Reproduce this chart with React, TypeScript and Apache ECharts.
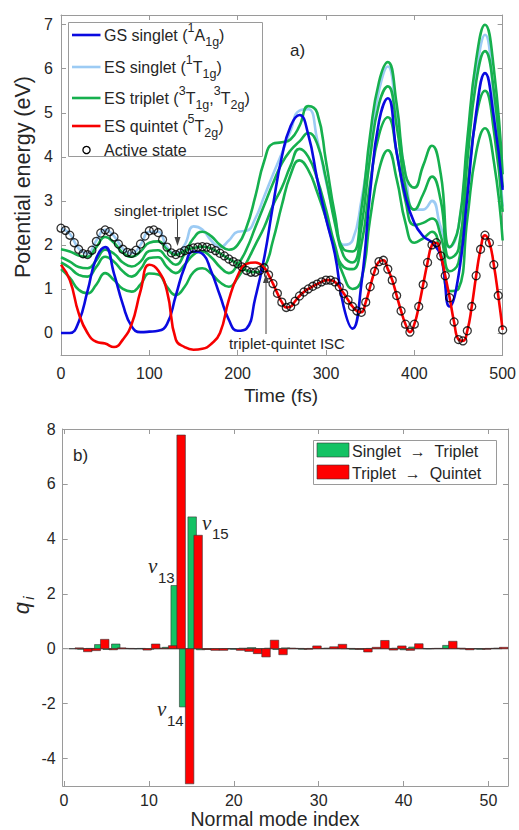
import React, { useEffect, useRef } from 'react';
import * as echarts from 'echarts';

// ---------- Panel a) data (time in fs, energy in eV) ----------
const lineTimes = [0, 10, 20, 30, 40, 50, 60, 70, 80, 90, 100, 110, 120, 130, 140, 150, 160, 170, 180, 190, 200,
  210, 220, 230, 240, 250, 260, 270, 280, 290, 300, 310, 320, 330, 340, 350, 360, 370, 380, 390, 400,
  410, 420, 430, 440, 450, 460, 470, 480, 490, 500];

const gsSinglet = [0, 0, 0.25, 0.95, 1.7, 1.95, 1.35, 0.65, 0.15, 0.02, 0.03, 0.05, 0.2, 0.85, 1.5, 1.85, 1.8, 1.4, 0.85, 0.3, 0.05,
  0.1, 0.8, 1.7, 2.9, 4.0, 4.7, 4.95, 4.5, 3.5, 2.6, 1.8, 0.6, 0.1, 1.1, 3.2, 4.8, 5.33, 4.1, 3.1, 2.5,
  2.2, 2.05, 1.75, 0.6, 1.3, 3.1, 5.0, 5.9, 4.9, 3.25];

const esSinglet = [2.38, 2.25, 1.92, 1.8, 2.1, 2.34, 2.2, 1.92, 1.81, 2.0, 2.3, 2.3, 1.95, 1.8, 2.0, 2.42, 2.35, 2.1, 1.95, 2.1, 2.3,
  2.32, 2.6, 3.1, 3.6, 4.08, 4.6, 5.05, 5.08, 4.4, 3.45, 2.6, 2.0, 2.1, 3.0, 4.3, 5.5, 6.05, 4.9, 3.6, 2.8,
  2.8, 3.0, 2.4, 1.95, 2.4, 4.2, 5.9, 6.77, 5.3, 2.87];

const tripletA = [1.9, 1.85, 1.76, 1.73, 1.95, 2.18, 2.05, 1.82, 1.73, 1.85, 2.05, 2.08, 1.9, 1.77, 1.87, 1.93, 1.96, 1.92, 1.81, 1.68, 1.57,
  1.42, 1.38, 1.48, 2.1, 2.9, 3.6, 3.92, 3.7, 3.2, 2.6, 1.9, 1.3, 1.0, 1.2, 2.6, 3.7, 4.15, 3.5, 2.5, 2.05,
  2.15, 2.3, 1.8, 0.95, 1.0, 2.6, 4.1, 4.65, 3.9, 2.1];

const tripletB = [1.72, 1.62, 1.5, 1.47, 1.65, 1.89, 1.8, 1.6, 1.51, 1.62, 1.86, 1.88, 1.7, 1.55, 1.8, 2.15, 2.3, 2.2, 2.0, 1.89, 2.0,
  2.4, 3.1, 3.9, 4.3, 4.33, 4.4, 4.7, 5.15, 5.0, 3.9, 2.7, 1.9, 1.85, 2.8, 4.5, 5.7, 6.15, 5.2, 3.6, 3.3,
  3.8, 4.25, 3.6, 1.95, 2.4, 4.4, 6.2, 7.0, 6.0, 3.6];

const tripletC = [1.6, 1.48, 1.32, 1.28, 1.5, 1.73, 1.62, 1.4, 1.28, 1.45, 1.7, 1.72, 1.5, 1.36, 1.55, 1.78, 1.85, 1.72, 1.5, 1.36, 1.55,
  1.9, 2.4, 2.9, 3.4, 3.85, 4.15, 4.35, 4.54, 4.3, 3.5, 2.5, 1.75, 1.6, 2.4, 4.0, 5.2, 5.6, 4.7, 3.3, 2.8,
  3.15, 3.55, 3.0, 1.7, 1.9, 3.9, 5.7, 6.4, 5.5, 3.3];

const tripletD = [1.45, 1.25, 0.98, 0.9, 1.1, 1.36, 1.2, 1.0, 0.94, 1.1, 1.35, 1.33, 1.05, 0.86, 1.05, 1.38, 1.47, 1.35, 1.15, 1.05, 1.25,
  1.6, 2.0, 2.4, 2.9, 3.3, 3.8, 4.18, 4.0, 3.5, 2.8, 2.0, 1.5, 1.45, 2.0, 3.4, 4.5, 4.9, 4.1, 3.0, 2.45,
  2.5, 2.6, 2.2, 1.4, 1.6, 3.3, 4.9, 5.5, 4.6, 2.75];

// quintet before the triplet-quintet crossing (t = 0..220 fs); afterwards it is the active state
const quintetEarly = [1.55, 1.2, 0.45, 0.0, -0.2, -0.24, -0.32, -0.15, 0.2, 0.95, 1.55, 1.42, 0.95, -0.15, -0.32, -0.38, -0.36, -0.25,
  0.0, 0.75, 1.3, 1.57, 1.6];

const activeTimes = [0, 5, 10, 15, 20, 25, 30, 35, 40, 45, 50, 55, 60, 65, 70, 75, 80, 85, 90, 95, 100,
  105, 110, 115, 120, 125, 130, 135, 140, 145, 150, 155, 160, 165, 170, 175, 180, 185, 190, 195, 200,
  205, 210, 215, 220, 225, 230, 235, 240, 245, 250, 255, 260, 265, 270, 275, 280, 285, 290, 295, 300,
  305, 310, 315, 320, 325, 330, 335, 340, 345, 350, 355, 360, 365, 370, 375, 380, 385, 390, 395, 400,
  405, 410, 415, 420, 425, 430, 435, 440, 445, 450, 455, 460, 465, 470, 475, 480, 485, 490, 495, 500];

const activeState = [2.38, 2.33, 2.22, 2.05, 1.9, 1.8, 1.78, 1.88, 2.08, 2.27, 2.34, 2.3, 2.18, 2.02, 1.9, 1.83, 1.81, 1.88, 2.02, 2.2, 2.32,
  2.34, 2.28, 2.12, 1.95, 1.82, 1.78, 1.82, 1.87, 1.9, 1.93, 1.95, 1.96, 1.95, 1.92, 1.87, 1.81, 1.75, 1.68, 1.62, 1.57,
  1.5, 1.42, 1.38, 1.38, 1.42, 1.48, 1.32, 1.12, 0.9, 0.7, 0.58, 0.6, 0.72, 0.84, 0.93, 1.0, 1.06, 1.11, 1.16, 1.2,
  1.2, 1.16, 1.05, 0.9, 0.75, 0.6, 0.5, 0.47, 0.7, 1.05, 1.4, 1.62, 1.65, 1.45, 1.2, 0.85, 0.5, 0.2, 0.02, 0.2,
  0.6, 1.1, 1.6, 2.0, 2.05, 1.75, 1.3, 0.8, 0.25, -0.15, -0.18, 0.05, 0.6, 1.3, 1.9, 2.22, 2.05, 1.55, 0.85, 0.07];

const quintetSwitchTime = 230;
const energyTicks = [0, 1, 2, 3, 4, 5, 6, 7];

// ---------- Panel b) data ----------
const modeIndex = [1, 2, 3, 4, 5, 6, 7, 8, 9, 10, 11, 12, 13, 14, 15, 16, 17, 18, 19, 20, 21, 22, 23, 24, 25,
  26, 27, 28, 29, 30, 31, 32, 33, 34, 35, 36, 37, 38, 39, 40, 41, 42, 43, 44, 45, 46, 47, 48, 49, 50, 51];

const singletToTriplet = [0.0, -0.02, 0.01, 0.15, -0.03, 0.17, 0.01, 0.0, 0.01, -0.02, 0.02, 0.05, 2.3, -2.12, 4.8, -0.04, -0.02, -0.02, 0.0, -0.02,
  0.02, 0.04, -0.05, 0.02, -0.03, 0.03, 0.01, -0.02, 0.01, 0.01, 0.02, 0.01, 0.0, -0.02, -0.02, 0.01, 0.02, 0.01, 0.02, -0.04,
  0.06, 0.01, 0.0, 0.01, 0.12, 0.01, -0.01, 0.0, -0.02, 0.01, 0.02];

const tripletToQuintet = [0.03, -0.11, -0.07, 0.34, -0.04, 0.03, 0.01, 0.0, -0.05, 0.17, 0.02, 0.11, 7.78, -4.92, 4.13, -0.03, -0.06, -0.06, 0.0, -0.06,
  -0.1, -0.18, -0.3, 0.31, -0.22, 0.02, 0.01, -0.02, 0.1, 0.01, 0.07, 0.16, 0.01, -0.02, -0.12, 0.05, 0.3, -0.05, 0.1, -0.06,
  0.18, 0.0, 0.01, 0.01, 0.27, 0.02, -0.04, 0.0, -0.02, 0.01, 0.05];

const modeTicks = [0, 10, 20, 30, 40, 50];
const qTicks = [-4, -2, 0, 2, 4, 6, 8];

// ---------- styles ----------
const FONT = "'Liberation Sans', Arial, Helvetica, sans-serif";
const SERIF = "'Liberation Serif', 'Times New Roman', serif";
const TXT = '#262626';
const AX = '#9a9a9a';
const C_GS = '#0a0ae0';
const C_ES = '#9ccbf4';
const C_TRIP = '#16b04e';
const C_QUIN = '#f70000';
const C_BAR_G = '#14c264';
const C_BAR_R = '#ff0000';
const LW = 2.6;
const BAR_W = 1.0;
const GREEN_OFFSET = 0.1;
const RED_OFFSET = 0.8;

function axis(opts: any) {
  const { gridIndex, min, max, interval, position, ticks, labels, margin } = opts;
  const a: any = {
    type: 'value',
    gridIndex,
    min,
    max,
    position,
    splitLine: { show: false },
    axisLine: { show: true, onZero: false, lineStyle: { color: AX, width: 1 } },
    axisTick: { show: true, inside: true, length: 5, lineStyle: { color: AX, width: 1 } },
    axisLabel: { show: labels, color: TXT, fontSize: 16, fontFamily: FONT, margin },
  };
  if (interval !== undefined) a.interval = interval;
  if (ticks) {
    a.axisTick.customValues = ticks;
    a.axisLabel.customValues = ticks;
  }
  return a;
}

function lineSeries(name: string, values: number[], color: string, z: number) {
  return {
    type: 'line',
    name,
    xAxisIndex: 0,
    yAxisIndex: 0,
    data: lineTimes.map((t, i) => [t, values[i]]),
    smooth: 0.5,
    showSymbol: false,
    symbol: 'none',
    lineStyle: { color, width: LW },
    z,
    silent: true,
  };
}

function barRender(offset: number, color: string) {
  return (_params: any, api: any) => {
    const x = api.value(0) + offset;
    const v = api.value(1);
    const a = api.coord([x - BAR_W / 2, 0]);
    const b = api.coord([x + BAR_W / 2, v]);
    return {
      type: 'rect',
      shape: { x: a[0], y: Math.min(a[1], b[1]), width: b[0] - a[0], height: Math.abs(b[1] - a[1]) },
      style: { fill: color, stroke: '#333333', lineWidth: 0.6 },
    };
  };
}

const tStyle = { fontSize: 16, fontFamily: FONT, fill: TXT, color: TXT, lineHeight: 27 };
const supStyle = { fontSize: 12.5, fontFamily: FONT, fill: TXT, color: TXT, lineHeight: 12, verticalAlign: 'top' };
const subStyle = { fontSize: 12.5, fontFamily: FONT, fill: TXT, color: TXT, lineHeight: 12, verticalAlign: 'bottom' };
const legendRich = { t: tStyle, sup: supStyle, sub: subStyle };

function richText(x: number, y: number, text: string) {
  return {
    type: 'text',
    x,
    y,
    z: 100,
    style: { text, rich: legendRich, align: 'left', textAlign: 'left', verticalAlign: 'middle', textVerticalAlign: 'middle' },
  };
}

function plainText(x: number, y: number, text: string, size: number, align = 'left', extra: any = {}) {
  return {
    type: 'text',
    x,
    y,
    z: 100,
    ...extra,
    style: {
      text,
      fill: TXT,
      fontSize: size,
      fontFamily: FONT,
      align,
      textAlign: align,
      verticalAlign: 'middle',
      textVerticalAlign: 'middle',
      ...(extra.style || {}),
    },
  };
}

export default function App() {
  const ref = useRef<HTMLDivElement>(null);

  useEffect(() => {
    if (!ref.current) return;
    const chart = echarts.init(ref.current, undefined, { renderer: 'svg' });

    const quintetData = [
      ...quintetEarly.map((v, i) => [lineTimes[i], v]),
      ...activeTimes.map((t, i) => [t, activeState[i]]).filter((p) => p[0] >= quintetSwitchTime),
    ];

    const legendRows = [
      { y: 35, color: C_GS, text: '{t|GS singlet (}{sup|1}{t|A}{sub|1g}{t|)}' },
      { y: 67, color: C_ES, text: '{t|ES singlet (}{sup|1}{t|T}{sub|1g}{t|)}' },
      { y: 98, color: C_TRIP, text: '{t|ES triplet (}{sup|3}{t|T}{sub|1g}{t|,}{sup|3}{t|T}{sub|2g}{t|)}' },
      { y: 126, color: C_QUIN, text: '{t|ES quintet (}{sup|5}{t|T}{sub|2g}{t|)}' },
    ];

    const graphics: any[] = [
      // legend a)
      { type: 'rect', z: 99, shape: { x: 68.5, y: 22.5, width: 194, height: 134 }, style: { fill: '#ffffff', stroke: AX, lineWidth: 1 } },
      ...legendRows.map((r) => ({ type: 'line', z: 100, shape: { x1: 72, y1: r.y, x2: 100.5, y2: r.y }, style: { stroke: r.color, lineWidth: LW } })),
      ...legendRows.map((r) => richText(104, r.y, r.text)),
      { type: 'circle', z: 100, shape: { cx: 86.5, cy: 150, r: 3.6 }, style: { fill: 'none', stroke: '#000', lineWidth: 1.3 } },
      plainText(104, 150, 'Active state', 16),
      plainText(290, 50, 'a)', 17),
      // ISC annotations
      plainText(171, 210, 'singlet-triplet ISC', 15, 'center'),
      { type: 'line', z: 100, shape: { x1: 177.5, y1: 219, x2: 177.5, y2: 240 }, style: { stroke: '#444', lineWidth: 1 } },
      { type: 'polygon', z: 100, shape: { points: [[174.5, 237], [180.5, 237], [177.5, 246]] }, style: { fill: '#444' } },
      plainText(287, 343, 'triplet-quintet ISC', 15, 'center'),
      { type: 'line', z: 100, shape: { x1: 266, y1: 334, x2: 266, y2: 280 }, style: { stroke: '#444', lineWidth: 1 } },
      { type: 'polygon', z: 100, shape: { points: [[263, 283], [269, 283], [266, 274]] }, style: { fill: '#444' } },
      // axis titles
      plainText(281, 395, 'Time (fs)', 19, 'center'),
      plainText(23, 177, 'Potential energy (eV)', 21.5, 'center', { rotation: Math.PI / 2 }),
      plainText(275, 819, 'Normal mode index', 19.5, 'center'),
      plainText(21, 608, 'q', 22, 'center', { rotation: Math.PI / 2, style: { fontStyle: 'italic' } }),
      plainText(28.5, 598, 'i', 15, 'center', { rotation: Math.PI / 2, style: { fontStyle: 'italic' } }),
      // panel b)
      plainText(73, 455, 'b)', 17),
      plainText(148, 566, 'ν', 21, 'left', { style: { fontFamily: SERIF, fontStyle: 'italic' } }),
      plainText(158, 577, '13', 15),
      plainText(157, 709, 'ν', 21, 'left', { style: { fontFamily: SERIF, fontStyle: 'italic' } }),
      plainText(167, 720, '14', 15),
      plainText(202, 523, 'ν', 21, 'left', { style: { fontFamily: SERIF, fontStyle: 'italic' } }),
      plainText(212, 533, '15', 15),
      // legend b)
      { type: 'rect', z: 99, shape: { x: 313.5, y: 440.5, width: 183, height: 44 }, style: { fill: '#ffffff', stroke: AX, lineWidth: 1 } },
      { type: 'rect', z: 100, shape: { x: 317, y: 443, width: 32, height: 14 }, style: { fill: C_BAR_G, stroke: '#333', lineWidth: 0.6 } },
      { type: 'rect', z: 100, shape: { x: 317, y: 465, width: 32, height: 14 }, style: { fill: C_BAR_R, stroke: '#333', lineWidth: 0.6 } },
      plainText(352, 451, 'Singlet  →  Triplet', 16),
      plainText(352, 473, 'Triplet  →  Quintet', 16),
    ];

    const option: any = {
      animation: false,
      backgroundColor: '#ffffff',
      grid: [
        { left: 61, top: 15, width: 445, height: 340, containLabel: false },
        { left: 62.7, top: 429, width: 445.3, height: 357, containLabel: false },
      ],
      xAxis: [
        axis({ gridIndex: 0, min: 0, max: 500, interval: 100, position: 'bottom', labels: true, margin: 10 }),
        axis({ gridIndex: 0, min: 0, max: 500, interval: 100, position: 'top', labels: false }),
        axis({ gridIndex: 1, min: -0.15, max: 52.3, position: 'bottom', ticks: modeTicks, labels: true, margin: 6 }),
        axis({ gridIndex: 1, min: -0.15, max: 52.3, position: 'top', ticks: modeTicks, labels: false }),
      ],
      yAxis: [
        axis({ gridIndex: 0, min: -0.5, max: 7.22, position: 'left', ticks: energyTicks, labels: true, margin: 8 }),
        axis({ gridIndex: 0, min: -0.5, max: 7.22, position: 'right', ticks: energyTicks, labels: false }),
        axis({ gridIndex: 1, min: -5, max: 8, position: 'left', ticks: qTicks, labels: true, margin: 7 }),
        axis({ gridIndex: 1, min: -5, max: 8, position: 'right', ticks: qTicks, labels: false }),
      ],
      series: [
        lineSeries('ES singlet', esSinglet, C_ES, 2),
        lineSeries('ES triplet', tripletA, C_TRIP, 3),
        lineSeries('ES triplet', tripletB, C_TRIP, 3),
        lineSeries('ES triplet', tripletC, C_TRIP, 3),
        lineSeries('ES triplet', tripletD, C_TRIP, 3),
        lineSeries('GS singlet', gsSinglet, C_GS, 4),
        {
          type: 'line',
          name: 'ES quintet',
          xAxisIndex: 0,
          yAxisIndex: 0,
          data: quintetData,
          smooth: 0.5,
          showSymbol: false,
          symbol: 'none',
          lineStyle: { color: C_QUIN, width: LW },
          z: 5,
          silent: true,
        },
        {
          type: 'scatter',
          name: 'Active state',
          xAxisIndex: 0,
          yAxisIndex: 0,
          data: activeTimes.map((t, i) => [t, activeState[i]]),
          symbol: 'circle',
          symbolSize: 8,
          itemStyle: { color: 'rgba(0,0,0,0)', borderColor: '#000000', borderWidth: 1.3 },
          z: 6,
          silent: true,
        },
        {
          type: 'line',
          name: 'baseline',
          xAxisIndex: 2,
          yAxisIndex: 2,
          data: [[-0.15, 0], [52.3, 0]],
          showSymbol: false,
          symbol: 'none',
          lineStyle: { color: AX, width: 1 },
          z: 1,
          silent: true,
        },
        {
          type: 'custom',
          name: 'Singlet → Triplet',
          xAxisIndex: 2,
          yAxisIndex: 2,
          data: modeIndex.map((m, i) => [m, singletToTriplet[i]]),
          encode: { x: 0, y: 1 },
          renderItem: barRender(GREEN_OFFSET, C_BAR_G),
          clip: true,
          z: 2,
          silent: true,
        },
        {
          type: 'custom',
          name: 'Triplet → Quintet',
          xAxisIndex: 2,
          yAxisIndex: 2,
          data: modeIndex.map((m, i) => [m, tripletToQuintet[i]]),
          encode: { x: 0, y: 1 },
          renderItem: barRender(RED_OFFSET, C_BAR_R),
          clip: true,
          z: 3,
          silent: true,
        },
      ],
      graphic: { elements: graphics },
    };

    chart.setOption(option);
    return () => chart.dispose();
  }, []);

  return (
    <div
      ref={ref}
      style={{ position: 'fixed', left: 0, top: 0, width: 519, height: 830, background: '#fff' }}
    />
  );
}
